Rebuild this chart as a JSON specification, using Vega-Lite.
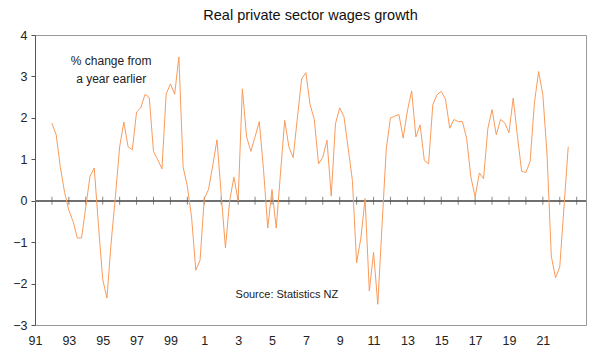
{
  "$schema": "https://vega.github.io/schema/vega-lite/v6.json",
  "width": 551,
  "height": 290,
  "autosize": "none",
  "padding": {"left": 35, "top": 35, "right": 10, "bottom": 37},
  "background": "white",
  "config": {
    "font": "Liberation Sans",
    "view": {"stroke": "#999999", "strokeWidth": 1},
    "axis": {"grid": false, "labelFont": "Liberation Sans", "labelFontSize": 12.5, "labelColor": "#222222"},
    "axisX": {"labelOverlap": false, "labelBound": false, "labelFlush": false, "tickCount": 40}
  },
  "title": {"text": "Real private sector wages growth", "fontSize": 14.5, "fontWeight": "normal", "color": "#111111", "font": "Liberation Sans", "offset": 6},
  "datasets": {
    "wages": [
      {"t": 1992.0, "v": 1.87}, {"t": 1992.25, "v": 1.59}, {"t": 1992.5, "v": 0.8}, {"t": 1992.75, "v": 0.2},
      {"t": 1993.0, "v": -0.23}, {"t": 1993.25, "v": -0.5}, {"t": 1993.5, "v": -0.9}, {"t": 1993.75, "v": -0.9},
      {"t": 1994.0, "v": -0.15}, {"t": 1994.25, "v": 0.59}, {"t": 1994.5, "v": 0.79}, {"t": 1994.75, "v": -0.6},
      {"t": 1995.0, "v": -1.9}, {"t": 1995.25, "v": -2.35}, {"t": 1995.5, "v": -1.0}, {"t": 1995.75, "v": 0.1},
      {"t": 1996.0, "v": 1.3}, {"t": 1996.25, "v": 1.9}, {"t": 1996.5, "v": 1.3}, {"t": 1996.75, "v": 1.23},
      {"t": 1997.0, "v": 2.14}, {"t": 1997.25, "v": 2.24}, {"t": 1997.5, "v": 2.57}, {"t": 1997.75, "v": 2.49},
      {"t": 1998.0, "v": 1.19}, {"t": 1998.25, "v": 0.99}, {"t": 1998.5, "v": 0.77}, {"t": 1998.75, "v": 2.58},
      {"t": 1999.0, "v": 2.82}, {"t": 1999.25, "v": 2.57}, {"t": 1999.5, "v": 3.47}, {"t": 1999.75, "v": 0.81},
      {"t": 2000.0, "v": 0.35}, {"t": 2000.25, "v": -0.4}, {"t": 2000.5, "v": -1.68}, {"t": 2000.75, "v": -1.44},
      {"t": 2001.0, "v": 0.05}, {"t": 2001.25, "v": 0.27}, {"t": 2001.5, "v": 0.85}, {"t": 2001.75, "v": 1.47},
      {"t": 2002.0, "v": 0.15}, {"t": 2002.25, "v": -1.14}, {"t": 2002.5, "v": 0.0}, {"t": 2002.75, "v": 0.57},
      {"t": 2003.0, "v": 0.0}, {"t": 2003.25, "v": 2.7}, {"t": 2003.5, "v": 1.54}, {"t": 2003.75, "v": 1.19},
      {"t": 2004.0, "v": 1.54}, {"t": 2004.25, "v": 1.91}, {"t": 2004.5, "v": 0.75}, {"t": 2004.75, "v": -0.66},
      {"t": 2005.0, "v": 0.27}, {"t": 2005.25, "v": -0.66}, {"t": 2005.5, "v": 0.65}, {"t": 2005.75, "v": 1.94},
      {"t": 2006.0, "v": 1.3}, {"t": 2006.25, "v": 1.04}, {"t": 2006.5, "v": 2.0}, {"t": 2006.75, "v": 2.94},
      {"t": 2007.0, "v": 3.09}, {"t": 2007.25, "v": 2.32}, {"t": 2007.5, "v": 1.96}, {"t": 2007.75, "v": 0.89},
      {"t": 2008.0, "v": 1.05}, {"t": 2008.25, "v": 1.46}, {"t": 2008.5, "v": 0.11}, {"t": 2008.75, "v": 1.86},
      {"t": 2009.0, "v": 2.24}, {"t": 2009.25, "v": 2.03}, {"t": 2009.5, "v": 1.27}, {"t": 2009.75, "v": 0.49},
      {"t": 2010.0, "v": -1.5}, {"t": 2010.25, "v": -0.9}, {"t": 2010.5, "v": 0.05}, {"t": 2010.75, "v": -2.18},
      {"t": 2011.0, "v": -1.24}, {"t": 2011.25, "v": -2.5}, {"t": 2011.5, "v": -0.6}, {"t": 2011.75, "v": 1.25},
      {"t": 2012.0, "v": 2.0}, {"t": 2012.25, "v": 2.04}, {"t": 2012.5, "v": 2.08}, {"t": 2012.75, "v": 1.51},
      {"t": 2013.0, "v": 2.17}, {"t": 2013.25, "v": 2.65}, {"t": 2013.5, "v": 1.54}, {"t": 2013.75, "v": 1.83},
      {"t": 2014.0, "v": 0.97}, {"t": 2014.25, "v": 0.89}, {"t": 2014.5, "v": 2.32}, {"t": 2014.75, "v": 2.56},
      {"t": 2015.0, "v": 2.64}, {"t": 2015.25, "v": 2.45}, {"t": 2015.5, "v": 1.75}, {"t": 2015.75, "v": 1.96},
      {"t": 2016.0, "v": 1.91}, {"t": 2016.25, "v": 1.91}, {"t": 2016.5, "v": 1.5}, {"t": 2016.75, "v": 0.57},
      {"t": 2017.0, "v": 0.09}, {"t": 2017.25, "v": 0.67}, {"t": 2017.5, "v": 0.53}, {"t": 2017.75, "v": 1.74},
      {"t": 2018.0, "v": 2.2}, {"t": 2018.25, "v": 1.59}, {"t": 2018.5, "v": 1.96}, {"t": 2018.75, "v": 1.88},
      {"t": 2019.0, "v": 1.64}, {"t": 2019.25, "v": 2.48}, {"t": 2019.5, "v": 1.55}, {"t": 2019.75, "v": 0.71},
      {"t": 2020.0, "v": 0.68}, {"t": 2020.25, "v": 0.95}, {"t": 2020.5, "v": 2.35}, {"t": 2020.75, "v": 3.12},
      {"t": 2021.0, "v": 2.56}, {"t": 2021.25, "v": 1.1}, {"t": 2021.5, "v": -1.34}, {"t": 2021.75, "v": -1.86},
      {"t": 2022.0, "v": -1.6}, {"t": 2022.25, "v": -0.15}, {"t": 2022.5, "v": 1.3}
    ],
    "years": [
      {"year": 1992}, {"year": 1993}, {"year": 1994}, {"year": 1995}, {"year": 1996}, {"year": 1997}, {"year": 1998}, {"year": 1999},
      {"year": 2000}, {"year": 2001}, {"year": 2002}, {"year": 2003}, {"year": 2004}, {"year": 2005}, {"year": 2006}, {"year": 2007},
      {"year": 2008}, {"year": 2009}, {"year": 2010}, {"year": 2011}, {"year": 2012}, {"year": 2013}, {"year": 2014}, {"year": 2015},
      {"year": 2016}, {"year": 2017}, {"year": 2018}, {"year": 2019}, {"year": 2020}, {"year": 2021}, {"year": 2022}, {"year": 2023}
    ]
  },
  "layer": [
    {
      "data": {"name": "wages"},
      "mark": {"type": "rule", "color": "#707070", "strokeWidth": 1},
      "encoding": {
        "y": {"datum": 0, "type": "quantitative", "scale": {"domain": [-3, 4], "nice": false, "zero": false},
          "axis": {"values": [-3, -2, -1, 0, 1, 2, 3, 4], "format": "d", "title": null, "tickSize": 4, "labelPadding": 4, "domainColor": "#555555", "tickColor": "#555555"}}
      }
    },
    {
      "data": {"name": "years"},
      "mark": {"type": "tick", "orient": "vertical", "color": "#555555", "size": 8, "thickness": 1},
      "encoding": {
        "x": {"field": "year", "type": "quantitative", "scale": {"domain": [1991, 2023.55], "nice": false, "zero": false},
          "axis": {"values": [1991, 1993, 1995, 1997, 1999, 2001, 2003, 2005, 2007, 2009, 2011, 2013, 2015, 2017, 2019, 2021],
            "tickCount": 40, "labelExpr": "datum.value % 100", "labelOverlap": false, "title": null, "ticks": false, "domain": false, "labelPadding": 9}},
        "y": {"datum": 0, "type": "quantitative"}
      }
    },
    {
      "data": {"name": "wages"},
      "mark": {"type": "line", "color": "#F99B5B", "strokeWidth": 1},
      "encoding": {
        "x": {"field": "t", "type": "quantitative", "axis": {"values": [1991, 1993, 1995, 1997, 1999, 2001, 2003, 2005, 2007, 2009, 2011, 2013, 2015, 2017, 2019, 2021],
            "tickCount": 40, "labelExpr": "datum.value % 100", "labelOverlap": false, "title": null, "ticks": false, "domain": false, "labelPadding": 9}},
        "y": {"field": "v", "type": "quantitative"}
      }
    },
    {
      "data": {"values": [{"label": "% change from", "x": 1995.5, "y": 3.37}, {"label": "a year earlier", "x": 1995.5, "y": 2.94}]},
      "mark": {"type": "text", "fontSize": 12, "color": "#222222", "align": "center", "baseline": "middle"},
      "encoding": {
        "x": {"field": "x", "type": "quantitative"},
        "y": {"field": "y", "type": "quantitative"},
        "text": {"field": "label"}
      }
    },
    {
      "data": {"values": [{"label": "Source: Statistics NZ", "x": 2005.88, "y": -2.28}]},
      "mark": {"type": "text", "fontSize": 11, "color": "#222222", "align": "center", "baseline": "middle"},
      "encoding": {
        "x": {"field": "x", "type": "quantitative"},
        "y": {"field": "y", "type": "quantitative"},
        "text": {"field": "label"}
      }
    }
  ]
}
